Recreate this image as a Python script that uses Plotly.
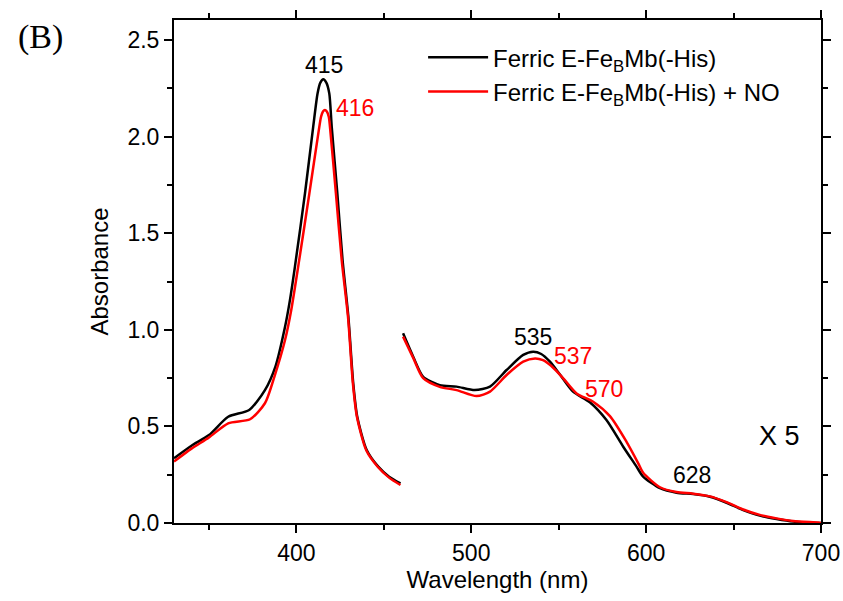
import plotly.graph_objects as go

# ---- data ----
soret_nm_black = [330, 340, 350, 361, 373, 382, 388, 393.5, 396.3, 399.2, 404.9, 409.6, 412.1, 413.7, 415.4,
                  417.1, 418.8, 420.2, 423.4, 426.4, 429.7, 432.5, 434.8, 440.2, 446.8, 453, 459.5]
soret_abs_black = [0.335, 0.40, 0.455, 0.55, 0.585, 0.688, 0.81, 1.016, 1.154, 1.33, 1.706, 2.051, 2.224, 2.28, 2.297,
                   2.28, 2.224, 2.051, 1.706, 1.361, 1.068, 0.723, 0.55, 0.378, 0.292, 0.24, 0.205]

soret_nm_red = [330, 340, 350, 361, 373.5, 382, 387.7, 393.5, 397, 401.6, 407.4, 413.1, 414.1, 415.2, 416.3,
                417.4, 418.5, 419.2, 422.6, 425.9, 429.5, 432.3, 434.6, 440, 446.6, 453, 459.5]
soret_abs_red = [0.318, 0.385, 0.443, 0.516, 0.537, 0.62, 0.766, 0.947, 1.10, 1.361, 1.706, 2.051, 2.103, 2.13, 2.138,
                 2.13, 2.103, 2.051, 1.706, 1.361, 1.068, 0.723, 0.55, 0.375, 0.29, 0.235, 0.197]

q_nm_black = [461, 466.8, 472.5, 482, 491.6, 502, 510.7, 520.2, 529.7, 535.4, 540, 545, 550.6, 558.2, 567.8,
              577.3, 586.9, 594.5, 598.3, 607.9, 617.4, 626.9, 636.5, 646, 655.5, 665, 674.6, 684.1, 698.4, 700]
q_abs_black = [0.982, 0.861, 0.757, 0.714, 0.706, 0.688, 0.706, 0.792, 0.87, 0.887, 0.875, 0.835, 0.77, 0.68, 0.625,
               0.533, 0.395, 0.292, 0.24, 0.18, 0.157, 0.15, 0.136, 0.105, 0.067, 0.038, 0.021, 0.008, 0.0, 0.0]

q_nm_red = [461, 466.8, 472.5, 482, 491.6, 503, 510.7, 520.2, 529.7, 536.5, 541, 545.5, 552.6, 560.2, 569.7,
            579.3, 588.8, 595.5, 598.3, 607.9, 617.4, 626.9, 636.5, 646, 655.5, 665, 674.6, 684.1, 698.4, 700]
q_abs_red = [0.965, 0.855, 0.75, 0.705, 0.688, 0.657, 0.68, 0.766, 0.835, 0.852, 0.843, 0.815, 0.749, 0.671, 0.628,
             0.553, 0.42, 0.309, 0.26, 0.185, 0.16, 0.152, 0.138, 0.108, 0.07, 0.042, 0.024, 0.01, 0.002, 0.0]

series_names = ["Ferric E-Fe<sub>B</sub>Mb(-His)", "Ferric E-Fe<sub>B</sub>Mb(-His) + NO"]

peak_labels = ["415", "416", "535", "537", "570", "628"]
peak_x = [415.6, 433.5, 535.3, 558.3, 576.0, 626.0]
peak_y = [2.373, 2.15, 0.964, 0.863, 0.695, 0.248]
peak_colors = ["black", "red", "black", "red", "red", "black"]

FONT = "Liberation Sans, Arial, Helvetica, sans-serif"
FS = 23

fig = go.Figure()
for nm, ab, name, col, show in [
    (soret_nm_black, soret_abs_black, series_names[0], "black", True),
    (soret_nm_red, soret_abs_red, series_names[1], "red", True),
    (q_nm_black, q_abs_black, series_names[0], "black", False),
    (q_nm_red, q_abs_red, series_names[1], "red", False),
]:
    fig.add_trace(go.Scatter(x=nm, y=ab, mode="lines", name=name, showlegend=show,
                             legendgroup=col,
                             line=dict(color=col, width=2.5, shape="spline", smoothing=0.7)))

for t, x, y, c in zip(peak_labels, peak_x, peak_y, peak_colors):
    fig.add_annotation(x=x, y=y, xref="x", yref="y", text=t, showarrow=False,
                       font=dict(family=FONT, size=FS, color=c))

fig.add_annotation(x=676.3, y=0.449, xref="x", yref="y", text="X 5", showarrow=False,
                   font=dict(family=FONT, size=27, color="black"))

L, R, T, B = 174, 22, 20, 78
fig.add_annotation(x=(40 - L) / (843 - L - R), y=(601 - B - 37) / (601 - T - B),
                   xref="paper", yref="paper", text="(B)", showarrow=False,
                   xanchor="center", yanchor="middle",
                   font=dict(family="Liberation Serif, Times New Roman, serif", size=34, color="black"))

axis_common = dict(showline=True, linecolor="black", linewidth=2, mirror="allticks",
                   ticks="outside", tickcolor="black", tickwidth=1.5, ticklen=8,
                   showgrid=False, zeroline=False, automargin=False,
                   tickfont=dict(family=FONT, size=FS, color="black"),
                   title_font=dict(family=FONT, size=24, color="black"))

fig.update_xaxes(range=[330, 700], tick0=400, dtick=100,
                 minor=dict(dtick=50, ticks="outside", ticklen=5, tickcolor="black", tickwidth=1.5),
                 title_text="Wavelength (nm)", title_standoff=6, **axis_common)
fig.update_yaxes(range=[0, 2.604], tick0=0, dtick=0.5, tickformat=".1f",
                 minor=dict(dtick=0.25, ticks="outside", ticklen=5, tickcolor="black", tickwidth=1.5),
                 title_text="Absorbance", title_standoff=12, **axis_common)

fig.update_layout(
    width=843, height=601,
    margin=dict(l=L, r=R, t=T, b=B, autoexpand=False),
    plot_bgcolor="white", paper_bgcolor="white",
    font=dict(family=FONT, size=FS, color="black"),
    legend=dict(x=0.385, y=0.97, xanchor="left", yanchor="top",
                bgcolor="rgba(0,0,0,0)", borderwidth=0,
                font=dict(family=FONT, size=24, color="black"),
                itemwidth=60, tracegroupgap=0),
)

fig.write_html("out.html")
